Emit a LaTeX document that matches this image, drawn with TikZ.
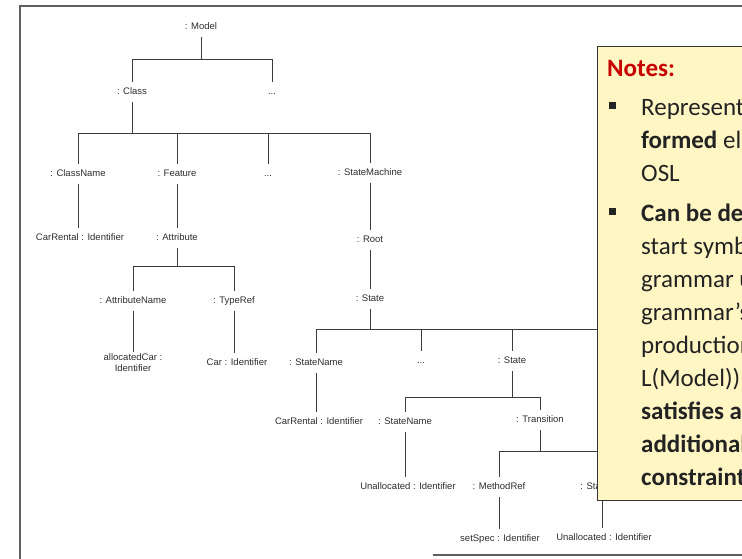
\documentclass[tikz,border=0pt]{standalone}
\usepackage{fontspec}
\setmainfont{Liberation Sans}
\newfontfamily\notefont{Carlito}
\definecolor{ink}{RGB}{45,45,45}
\definecolor{wire}{RGB}{60,60,60}
\definecolor{framec}{RGB}{95,95,95}
\definecolor{notefill}{RGB}{255,246,196}
\definecolor{notered}{RGB}{200,0,0}
\definecolor{notetext}{RGB}{35,35,35}
\begin{document}
\begin{tikzpicture}[x=1pt,y=-1pt,
  tn/.style={font=\fontsize{9.5}{11}\selectfont, text=ink, inner xsep=1pt, inner ysep=5pt, text height=7pt, text depth=2pt},
  tn2/.style={font=\fontsize{9.5}{11}\selectfont, text=ink, inner sep=1pt, align=center},
  tl/.style={draw=wire, line width=0.9pt},
  fr/.style={draw=framec, line width=1.2pt},
  nl/.style={font=\notefont\fontsize{25}{30}\selectfont, text=notetext, anchor=base west, inner sep=0pt},
  bul/.style={fill=notetext, minimum size=7pt, inner sep=0pt}]
\useasboundingbox (0,0) rectangle (742,558);
\clip (0,0) rectangle (742,558);
% frame
\coordinate (f1) at (20,600);
\coordinate (f2) at (20,6);
\coordinate (f3) at (760,6);
\coordinate (f4) at (433,555);
\coordinate (f5) at (760,555);
\draw[fr] (f1) -- (f2) -- (f3);
\draw[fr] (f4) -- (f5);
% tree nodes
\node[tn] (Model) at (201,27) {: Model};
\node[tn] (Class) at (132,92) {: Class};
\node[tn] (dA) at (272,92) {...};
\node[tn] (ClassName) at (78,174) {: ClassName};
\node[tn] (Feature) at (177,174) {: Feature};
\node[tn] (dB) at (268,174) {...};
\node[tn] (SM) at (370,173) {: StateMachine};
\node[tn] (CarRental1) at (80,238) {CarRental : Identifier};
\node[tn] (Attribute) at (177,238) {: Attribute};
\node[tn] (Root) at (370,240) {: Root};
\node[tn] (AttributeName) at (133,301) {: AttributeName};
\node[tn] (TypeRef) at (234,301) {: TypeRef};
\node[tn] (State1) at (370,299) {: State};
\node[tn2] (Alloc) at (133,362.5) {allocatedCar :\\Identifier};
\node[tn] (CarId) at (237,363) {Car : Identifier};
\node[tn] (StateName1) at (316,363) {: StateName};
\node[tn] (dC) at (421,361) {...};
\node[tn] (State2) at (512,361) {: State};
\node[tn] (CarRental2) at (319,422) {CarRental : Identifier};
\node[tn] (StateName2) at (405,422) {: StateName};
\node[tn] (Transition) at (540,420) {: Transition};
\node[tn] (Unalloc1) at (408,487) {Unallocated : Identifier};
\node[tn] (MethodRef) at (499,487) {: MethodRef};
\node[tn] (StateRef) at (602,487) {: StateRef};
\node[tn] (SetSpec) at (500,539) {setSpec : Identifier};
\node[tn] (Unalloc2) at (604,538) {Unallocated : Identifier};
% bars
\coordinate (b1) at (201,59);
\coordinate (b2) at (132,133);
\coordinate (b3) at (177,266);
\coordinate (b4) at (370,329);
\coordinate (b4e) at (660,329);
\coordinate (b5) at (512,397);
\coordinate (b6) at (540,451);
% connectors
\draw[tl] (Model.south) -- (b1);
\draw[tl] (b1) -| (Class.north);
\draw[tl] (b1) -| (dA.north);
\draw[tl] (Class.south) -- (b2);
\draw[tl] (b2) -| (ClassName.north);
\draw[tl] (b2) -| (Feature.north);
\draw[tl] (b2) -| (dB.north);
\draw[tl] (b2) -| (SM.north);
\draw[tl] (ClassName.south) -- (ClassName.south |- CarRental1.north);
\draw[tl] (Feature.south) -- (Attribute.north);
\draw[tl] (Attribute.south) -- (b3);
\draw[tl] (b3) -| (AttributeName.north);
\draw[tl] (b3) -| (TypeRef.north);
\draw[tl] (AttributeName.south) -- (AttributeName.south |- Alloc.north);
\draw[tl] (TypeRef.south) -- (TypeRef.south |- CarId.north);
\draw[tl] (SM.south) -- (Root.north);
\draw[tl] (Root.south) -- (State1.north);
\draw[tl] (State1.south) -- (b4);
\draw[tl] (StateName1.north) |- (b4e);
\draw[tl] (b4) -| (dC.north);
\draw[tl] (b4) -| (State2.north);
\draw[tl] (StateName1.south) -- (StateName1.south |- CarRental2.north);
\draw[tl] (State2.south) -- (b5);
\draw[tl] (b5) -| (StateName2.north);
\draw[tl] (b5) -| (Transition.north);
\draw[tl] (StateName2.south) -- (StateName2.south |- Unalloc1.north);
\draw[tl] (Transition.south) -- (b6);
\draw[tl] (b6) -| (MethodRef.north);
\draw[tl] (b6) -| (StateRef.north);
\draw[tl] (MethodRef.south) -- (MethodRef.south |- SetSpec.north);
\draw[tl] (StateRef.south) -- (StateRef.south |- Unalloc2.north);
% notes box
\node[draw=black!80, line width=1.2pt, fill=notefill, anchor=north west, minimum width=180pt, minimum height=454pt, inner sep=0pt] (notebox) at (597,46) {};
\node[nl, font=\notefont\bfseries\fontsize{25}{30}\selectfont, text=notered] (nt) at (607,76) {Notes:};
\node[bul] (bu1) at (612,105.5) {};
\node[nl] (l1) at (641,115) {Represents well-};
\node[nl] (l2) at (641,148) {\textbf{formed} elements of};
\node[nl] (l3) at (641,181) {OSL};
\node[bul] (bu2) at (612,211.5) {};
\node[nl] (l4) at (641,221) {\textbf{Can be derived} from the};
\node[nl] (l5) at (641,254) {start symbol of the};
\node[nl] (l6) at (641,287) {grammar using the};
\node[nl] (l7) at (641,320) {grammar’s};
\node[nl] (l8) at (641,353) {productions (i.e., in};
\node[nl] (l9) at (641,386) {L(Model)) and};
\node[nl] (l10) at (641,419) {\textbf{satisfies all}};
\node[nl] (l11) at (641,452) {\textbf{additional}};
\node[nl] (l12) at (641,485) {\textbf{constraints}};
\end{tikzpicture}
\end{document}
